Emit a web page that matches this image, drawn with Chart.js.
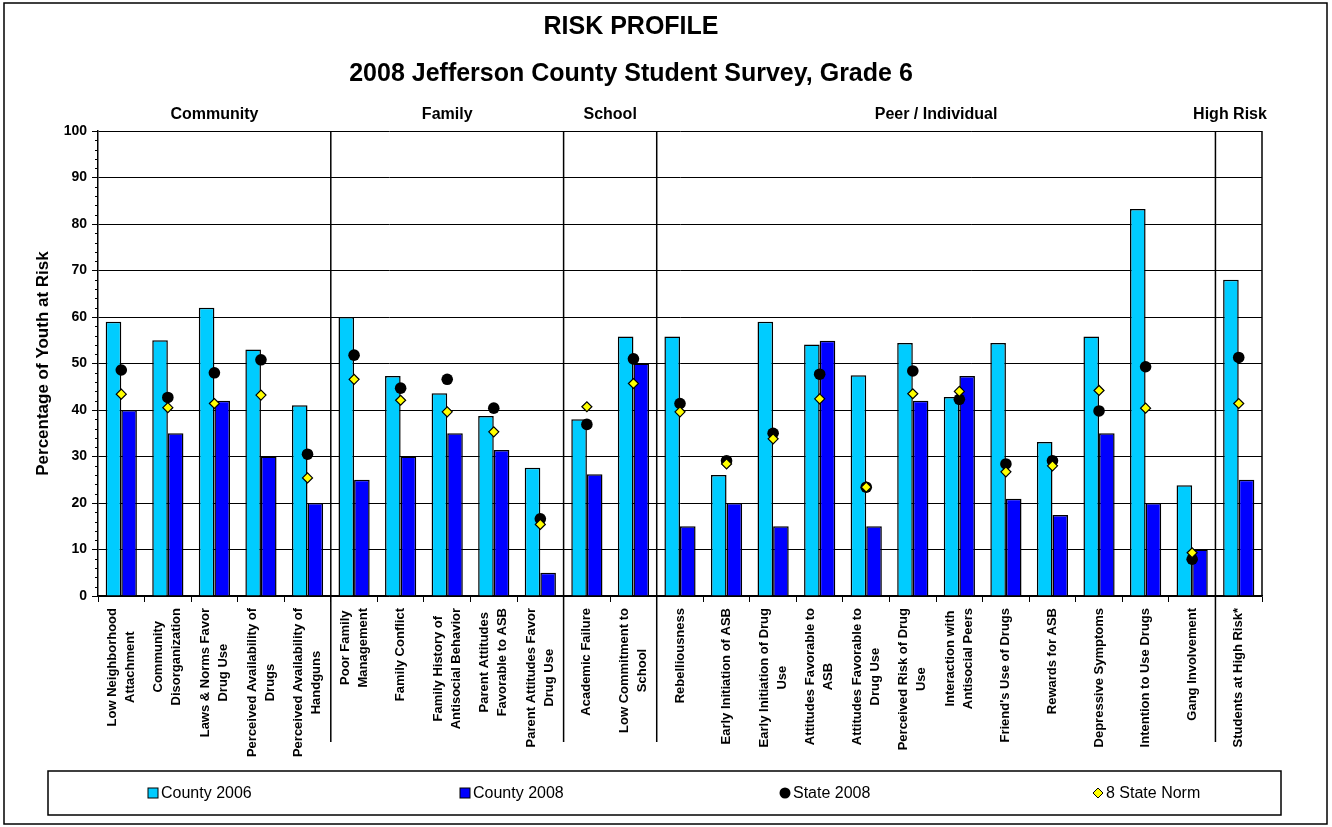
<!DOCTYPE html>
<html>
<head>
<meta charset="utf-8">
<title>Risk Profile</title>
<script src="https://cdn.jsdelivr.net/npm/chart.js@4"></script>
<style>
  html, body { margin: 0; padding: 0; background: #fff; }
  #wrap { width: 1332px; height: 827px; position: relative; }
</style>
</head>
<body>
<div id="wrap"><canvas id="riskChart" width="1332" height="827"></canvas></div>
<script>
// 1. DATA
const riskLabels = [
    ['Low Neighborhood', 'Attachment'],
    ['Community', 'Disorganization'],
    ['Laws & Norms Favor', 'Drug Use'],
    ['Perceived Availability of', 'Drugs'],
    ['Perceived Availability of', 'Handguns'],
    ['Poor Family', 'Management'],
    ['Family Conflict'],
    ['Family History of', 'Antisocial Behavior'],
    ['Parent Attitudes', 'Favorable to ASB'],
    ['Parent Attitudes Favor', 'Drug Use'],
    ['Academic Failure'],
    ['Low Commitment to', 'School'],
    ['Rebelliousness'],
    ['Early Initiation of ASB'],
    ['Early Initiation of Drug', 'Use'],
    ['Attitudes Favorable to', 'ASB'],
    ['Attitudes Favorable to', 'Drug Use'],
    ['Perceived Risk of Drug', 'Use'],
    ['Interaction with', 'Antisocial Peers'],
    ["Friend's Use of Drugs"],
    ['Rewards for ASB'],
    ['Depressive Symptoms'],
    ['Intention to Use Drugs'],
    ['Gang Involvement'],
    ['Students at High Risk*']
];

// domain headings and how many categories each one spans
const groupNames = ['Community', 'Family', 'School', 'Peer / Individual', 'High Risk'];
const groupSizes = [5, 5, 2, 12, 1];

const county2006 = [59, 55, 62, 53, 41, 60, 47.3, 43.6, 38.7, 27.6, 38, 55.8, 55.8, 26, 59, 54.1, 47.5, 54.4, 42.8, 54.4, 33.1, 55.8, 83.2, 23.8, 68];
const county2008 = [40, 35, 42, 30, 20, 25, 30, 35, 31.4, 5, 26.2, 50, 15, 20, 15, 54.9, 15, 42, 47.3, 20.9, 17.4, 35, 20, 10, 25];
const state2008 = [48.6, 42.7, 48, 50.8, 30.5, 51.8, 44.7, 46.6, 40.4, 16.6, 36.9, 51, 41.4, 29.1, 35, 47.7, 23.4, 48.4, 42.3, 28.4, 29.1, 39.8, 49.3, 7.9, 51.3];
const stateNorm = [43.4, 40.5, 41.4, 43.2, 25.4, 46.6, 42.1, 39.6, 35.3, 15.4, 40.7, 45.7, 39.6, 28.4, 33.8, 42.4, 23.4, 43.5, 44, 26.7, 28, 44.2, 40.4, 9.3, 41.4];

const yTicks = [0, 10, 20, 30, 40, 50, 60, 70, 80, 90, 100];
const legendOrder = ['County 2006', 'County 2008', 'State 2008', '8 State Norm'];

const FONT = "Arial, 'Liberation Sans', Helvetica, sans-serif";

// 2. CUSTOM DRAWING (group headings, separators, rotated labels, legend box, frame)
const decorations = {
    id: 'decorations',
    afterDraw(chart) {
        const { ctx, chartArea, scales } = chart;
        const xs = scales.x;
        const ys = scales.y;
        const half = (xs.getPixelForValue(1) - xs.getPixelForValue(0)) / 2;

        ctx.save();

        // minor ticks on the y axis every 2 units
        ctx.strokeStyle = '#000';
        ctx.lineWidth = 1;
        for (let v = 2; v < 100; v += 2) {
            if (v % 10 === 0) continue;
            const py = Math.round(ys.getPixelForValue(v)) + 0.5;
            ctx.beginPath();
            ctx.moveTo(chartArea.left - 3, py);
            ctx.lineTo(chartArea.left, py);
            ctx.stroke();
        }

        // right border of the plot area
        ctx.lineWidth = 1.5;
        ctx.beginPath();
        ctx.moveTo(chartArea.right, chartArea.top);
        ctx.lineTo(chartArea.right, chartArea.bottom);
        ctx.stroke();

        // group separators and headings
        let start = 0;
        ctx.font = 'bold 16px ' + FONT;
        ctx.fillStyle = '#000';
        ctx.textAlign = 'center';
        ctx.textBaseline = 'middle';
        groupNames.forEach((name, g) => {
            const end = start + groupSizes[g];
            const x0 = xs.getPixelForValue(start) - half;
            const x1 = xs.getPixelForValue(end - 1) + half;
            // keep the last heading inside the frame like the original
            const cx = Math.min((x0 + x1) / 2, chartArea.right - 32);
            ctx.fillText(name, cx, 115);
            if (end < riskLabels.length) {
                ctx.beginPath();
                ctx.moveTo(x1, chartArea.top);
                ctx.lineTo(x1, 742);
                ctx.stroke();
            }
            start = end;
        });

        // category labels, rotated and centred line by line
        ctx.font = 'bold 13px ' + FONT;
        const labelTop = chartArea.bottom + 12;
        riskLabels.forEach((lines, i) => {
            const x = xs.getPixelForValue(i);
            const maxW = Math.max(...lines.map(t => ctx.measureText(t).width));
            ctx.save();
            ctx.translate(x, labelTop);
            ctx.rotate(-Math.PI / 2);
            ctx.textAlign = 'center';
            lines.forEach((t, j) => {
                ctx.fillText(t, -maxW / 2, (j - (lines.length - 1) / 2) * 18);
            });
            ctx.restore();
        });

        // legend box
        const lx0 = 48, lx1 = 1281, ly0 = 771, ly1 = 815;
        const itemX = [148, 460, 780, 1093];
        ctx.lineWidth = 1.5;
        ctx.strokeRect(lx0, ly0, lx1 - lx0, ly1 - ly0);
        ctx.font = '16px ' + FONT;
        ctx.textAlign = 'left';
        const cy = (ly0 + ly1) / 2;
        legendOrder.forEach((name, k) => {
            const ds = chart.data.datasets.find(d => d.label === name);
            const mx = itemX[k];
            ctx.lineWidth = 1;
            ctx.strokeStyle = '#000';
            if (ds.type === 'bar') {
                ctx.fillStyle = ds.backgroundColor;
                ctx.fillRect(mx, cy - 5, 10, 10);
                ctx.strokeRect(mx, cy - 5, 10, 10);
            } else if (ds.pointStyle === 'rectRot') {
                ctx.fillStyle = ds.pointBackgroundColor;
                ctx.beginPath();
                ctx.moveTo(mx, cy);
                ctx.lineTo(mx + 5, cy - 5);
                ctx.lineTo(mx + 10, cy);
                ctx.lineTo(mx + 5, cy + 5);
                ctx.closePath();
                ctx.fill();
                ctx.stroke();
            } else {
                ctx.fillStyle = ds.pointBackgroundColor;
                ctx.beginPath();
                ctx.arc(mx + 5, cy, 5.5, 0, Math.PI * 2);
                ctx.fill();
            }
            ctx.fillStyle = '#000';
            ctx.fillText(ds.label, mx + 13, cy + 1);
        });

        // outer chart frame
        ctx.lineWidth = 1.5;
        ctx.strokeStyle = '#000';
        ctx.strokeRect(4, 3, 1323, 821);

        ctx.restore();
    }
};

// 3. CHART
const ctx = document.getElementById('riskChart').getContext('2d');

const riskChart = new Chart(ctx, {
    type: 'bar',
    data: {
        labels: riskLabels,
        datasets: [
            {
                type: 'line',
                label: '8 State Norm',
                data: stateNorm,
                showLine: false,
                pointStyle: 'rectRot',
                pointRadius: 5,
                pointBackgroundColor: '#FFFF00',
                pointBorderColor: '#000',
                pointBorderWidth: 1.2,
                order: 0
            },
            {
                type: 'line',
                label: 'State 2008',
                data: state2008,
                showLine: false,
                pointStyle: 'circle',
                pointRadius: 5.8,
                pointBackgroundColor: '#000',
                pointBorderColor: '#000',
                pointBorderWidth: 0,
                order: 1
            },
            {
                type: 'bar',
                label: 'County 2006',
                data: county2006,
                backgroundColor: '#00CCFF',
                borderColor: '#000',
                borderWidth: 1.5,
                order: 2
            },
            {
                type: 'bar',
                label: 'County 2008',
                data: county2008,
                backgroundColor: '#0000FF',
                borderColor: '#000',
                borderWidth: 1.5,
                order: 2
            }
        ]
    },
    options: {
        responsive: false,
        animation: false,
        events: [],
        datasets: {
            bar: { categoryPercentage: 0.67, barPercentage: 1.0 }
        },
        layout: { padding: { left: 0, right: 70, top: 0, bottom: 0 } },
        scales: {
            x: {
                offset: true,
                grid: {
                    offset: true,
                    drawOnChartArea: false,
                    color: '#000',
                    tickLength: 6
                },
                border: { color: '#000', width: 1.5 },
                ticks: { display: false },
                afterFit: (scale) => { scale.height = 231; }
            },
            y: {
                min: 0,
                max: 100,
                afterBuildTicks: (scale) => { scale.ticks = yTicks.map(v => ({ value: v })); },
                grid: { color: '#000', tickColor: '#000', tickLength: 6, lineWidth: 1 },
                border: { color: '#000', width: 1.5 },
                ticks: {
                    color: '#000',
                    padding: 5,
                    font: { family: FONT, size: 14, weight: 'bold' }
                },
                title: {
                    display: true,
                    text: 'Percentage of Youth at Risk',
                    color: '#000',
                    padding: { top: 33, bottom: 0 },
                    font: { family: FONT, size: 17, weight: 'bold' }
                },
                afterFit: (scale) => { scale.width = 98; }
            }
        },
        plugins: {
            legend: { display: false },
            tooltip: { enabled: false },
            title: {
                display: true,
                text: 'RISK PROFILE',
                color: '#000',
                padding: { top: 12, bottom: 17 },
                font: { family: FONT, size: 25, weight: 'bold' }
            },
            subtitle: {
                display: true,
                text: '2008 Jefferson County Student Survey, Grade 6',
                color: '#000',
                padding: { top: 0, bottom: 42 },
                font: { family: FONT, size: 25, weight: 'bold' }
            }
        }
    },
    plugins: [decorations]
});
</script>
</body>
</html>
